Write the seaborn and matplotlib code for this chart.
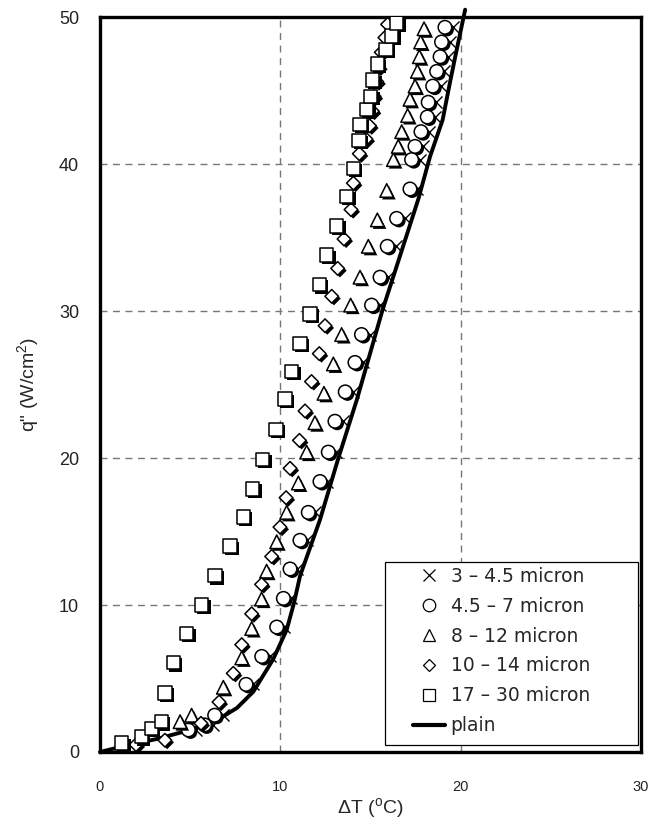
import numpy as np
import pandas as pd
import matplotlib
matplotlib.use("Agg")
import matplotlib.pyplot as plt
import matplotlib.patheffects as pe
from matplotlib.lines import Line2D
from matplotlib.patches import Rectangle
import seaborn as sns

# Plain surface boiling curve
plain_dT = [0, 1.5, 3.2, 5.0, 6.4, 7.6, 8.5, 9.6, 10.35, 10.75, 11.1, 12.2,
            13.22, 14.24, 15.65, 17.65, 18.3, 19.0, 19.4, 19.7, 20.25]
plain_q = [0, 0.45, 0.9, 1.5, 2.1, 3.0, 4.1, 6.3, 8.3, 10.1, 12.0, 15.8,
           20.0, 23.95, 30.0, 37.6, 40.5, 43.0, 45.5, 47.3, 50.5]

# 4.5 - 7 micron coating
c2_dT = [4.9, 5.8, 6.36, 8.1, 8.97, 9.8, 10.17, 10.54, 11.09, 11.55, 12.2,
         12.66, 13.03, 13.6, 14.14, 14.5, 15.06, 15.53, 15.93, 16.45, 17.19,
         17.28, 17.47, 17.8, 18.15, 18.2, 18.45, 18.67, 18.86, 18.94, 19.13]
c2_q = [1.5, 1.84, 2.5, 4.6, 6.5, 8.5, 10.45, 12.45, 14.4, 16.3, 18.4,
        20.4, 22.5, 24.5, 26.5, 28.4, 30.4, 32.3, 34.4, 36.3, 38.3,
        40.3, 41.2, 42.2, 43.2, 44.2, 45.3, 46.3, 47.3, 48.3, 49.3]

# 3 - 4.5 micron coating (same heat-flux steps, slightly higher superheat)
c1_dT = [5.35, 6.25, 6.8, 8.5, 9.4, 10.2, 10.6, 10.95, 11.5, 11.95, 12.6,
         13.1, 13.5, 14.05, 14.6, 14.95, 15.5, 15.95, 16.4, 16.9, 17.6,
         17.75, 17.9, 18.25, 18.55, 18.65, 18.9, 19.1, 19.3, 19.4, 19.55]
c1_q = c2_q

# 8 - 12 micron coating
c3_dT = [4.44, 5.08, 6.84, 7.86, 8.41, 8.96, 9.24, 9.8, 10.35, 11.0, 11.46,
         11.92, 12.42, 12.94, 13.4, 13.9, 14.42, 14.88, 15.38, 15.9, 16.27,
         16.54, 16.73, 17.06, 17.19, 17.47, 17.6, 17.71, 17.78, 17.97]
c3_q = [2.06, 2.5, 4.4, 6.4, 8.4, 10.4, 12.3, 14.3, 16.3, 18.3, 20.4,
        22.4, 24.4, 26.4, 28.4, 30.4, 32.3, 34.4, 36.2, 38.2, 40.3,
        41.2, 42.2, 43.3, 44.4, 45.3, 46.3, 47.3, 48.3, 49.2]

# 10 - 14 micron coating
c4_dT = [2.0, 3.6, 5.6, 6.6, 7.39, 7.86, 8.41, 8.96, 9.52, 9.98, 10.32,
         10.54, 11.06, 11.37, 11.73, 12.16, 12.48, 12.85, 13.18, 13.53, 13.92,
         14.05, 14.38, 14.75, 14.95, 15.1, 15.2, 15.35, 15.45, 15.6, 15.8, 15.95]
c4_q = [0.5, 0.8, 1.95, 3.4, 5.35, 7.3, 9.4, 11.4, 13.3, 15.3, 17.3,
        19.3, 21.2, 23.2, 25.2, 27.1, 29.0, 31.0, 32.9, 34.9, 36.9,
        38.7, 40.7, 41.7, 42.6, 43.6, 44.6, 45.6, 46.6, 47.6, 48.6, 49.5]

# 17 - 30 micron coating
c5_dT = [1.2, 2.3, 2.85, 3.4, 3.6, 4.07, 4.81, 5.64, 6.38, 7.21, 7.95, 8.47,
         9.02, 9.76, 10.26, 10.63, 11.09, 11.65, 12.16, 12.57, 13.12, 13.68,
         14.05, 14.35, 14.42, 14.79, 15.01, 15.12, 15.38, 15.86, 16.17, 16.45]
c5_q = [0.6, 1.04, 1.6, 2.06, 4.03, 6.08, 8.07, 10.0, 12.0, 14.0, 16.0, 17.9,
        19.9, 21.95, 24.0, 25.9, 27.8, 29.8, 31.8, 33.8, 35.8, 37.8,
        39.7, 41.6, 42.7, 43.7, 44.6, 45.7, 46.8, 47.8, 48.7, 49.6]

labels = ["3 \u2013 4.5 micron", "4.5 \u2013 7 micron", "8 \u2013 12 micron",
          "10 \u2013 14 micron", "17 \u2013 30 micron", "plain"]

sns.set_theme(style="white")
plt.rcParams["font.family"] = ["Liberation Sans", "DejaVu Sans"]
plt.rcParams["mathtext.fontset"] = "custom"
plt.rcParams["mathtext.rm"] = "Liberation Sans"

fig = plt.figure(figsize=(6.51, 8.27), dpi=100)
ax = fig.add_axes([0.1536, 0.0907, 0.831, 0.8887])

shadow = [pe.SimplePatchShadow(offset=(1.6, -1.6), shadow_rgbFace="black", alpha=1.0),
          pe.Normal()]

# x-markers sit underneath the open circles
sns.scatterplot(x=c1_dT, y=c1_q, marker="x", s=75, color="black", linewidth=1.0,
                ax=ax, legend=False, zorder=3)

sns.lineplot(x=plain_dT, y=plain_q, color="black", linewidth=2.8, sort=False,
             estimator=None, ax=ax, legend=False, zorder=4, clip_on=False)

series = [(c2_dT, c2_q, "o", 95), (c3_dT, c3_q, "^", 95),
          (c4_dT, c4_q, "D", 48), (c5_dT, c5_q, "s", 95)]
for i, (xs, ys, m, s) in enumerate(series):
    sns.scatterplot(x=xs, y=ys, marker=m, s=s, facecolor="white",
                    edgecolor="black", linewidth=1.1, ax=ax, legend=False,
                    zorder=5 + i, path_effects=shadow)

ax.set_xlim(0, 30)
ax.set_ylim(0, 50)
ax.set_xticks([0, 10, 20, 30])
ax.set_yticks([0, 10, 20, 30, 40, 50])
ax.tick_params(axis="x", length=0, pad=20, labelsize=10.5, labelcolor="#222222")
ax.tick_params(axis="y", length=0, pad=15, labelsize=13, labelcolor="#222222")

ax.grid(True, linestyle=(0, (5, 4)), color="#777777", linewidth=1.0)
ax.set_axisbelow(True)
for sp in ax.spines.values():
    sp.set_visible(True)
    sp.set_color("black")
    sp.set_linewidth(2.4)

ax.set_xlabel(r"$\Delta$T ($^{\rm o}$C)", fontsize=14, labelpad=2)
ax.set_ylabel(r'q" (W/cm$^{2}$)', fontsize=14, labelpad=12)

# legend box drawn as its own rectangle so the entries can sit inset
ax.add_patch(Rectangle((0.527, 0.0095), 0.4677, 0.249, transform=ax.transAxes,
                       facecolor="white", edgecolor="black", linewidth=0.9,
                       zorder=19, clip_on=False))

handles = [
    Line2D([], [], marker="x", linestyle="none", color="black", markersize=9, markeredgewidth=0.9),
    Line2D([], [], marker="o", linestyle="none", markerfacecolor="white", markeredgecolor="black", markersize=9, markeredgewidth=0.9),
    Line2D([], [], marker="^", linestyle="none", markerfacecolor="white", markeredgecolor="black", markersize=9, markeredgewidth=0.9),
    Line2D([], [], marker="D", linestyle="none", markerfacecolor="white", markeredgecolor="black", markersize=6.5, markeredgewidth=0.9),
    Line2D([], [], marker="s", linestyle="none", markerfacecolor="white", markeredgecolor="black", markersize=9, markeredgewidth=0.9),
    Line2D([], [], color="black", linewidth=3),
]
leg = ax.legend(handles, labels, loc="upper left", bbox_to_anchor=(0.5786, 0.252),
                prop={"family": ["DejaVu Sans"], "size": 13.5},
                frameon=False, borderpad=0.0, labelspacing=0.58,
                handlelength=1.7, handletextpad=0.3, borderaxespad=0.0)
leg.set_zorder(20)

fig.savefig("out.png", dpi=100)
